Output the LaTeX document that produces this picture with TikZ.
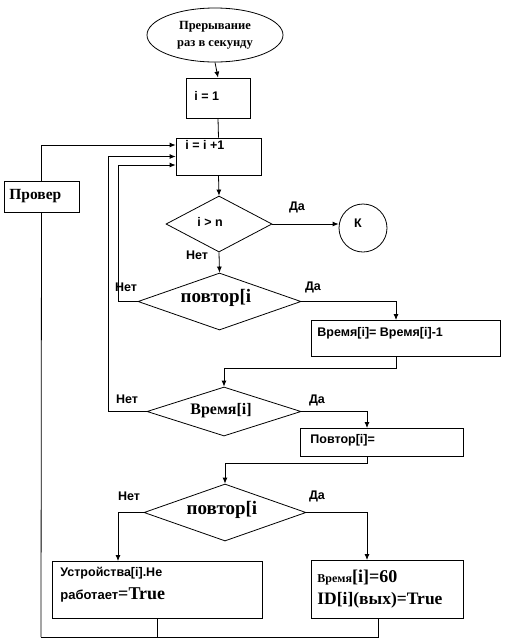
\documentclass[tikz,border=0pt]{standalone}
\usepackage{fontspec}
\setmainfont{Liberation Serif}
\newfontfamily\sansb{Liberation Sans}
\usetikzlibrary{shapes.geometric,arrows.meta}
\begin{document}
\begin{tikzpicture}[x=1pt,y=-1pt,
  line width=0.8pt,
  every node/.style={inner sep=0pt},
  blk/.style={draw, rectangle, inner sep=0pt},
  dia/.style={draw, diamond, inner sep=0pt},
  lab/.style={font=\sansb\bfseries\fontsize{12.5}{14}\selectfont},
  arr/.style={-{Latex[length=6pt,width=5pt]}}
]
\useasboundingbox (0,0) rectangle (505,638);

% shapes
\node[draw, ellipse, minimum width=136pt, minimum height=54pt, align=center,
      font=\bfseries\fontsize{12.5}{17}\selectfont] (start) at (215,35) {Прерывание\\раз в секунду};
\node[blk, minimum width=64pt, minimum height=40pt] (b1) at (218,98) {};
\node[blk, minimum width=85pt, minimum height=37pt] (b2) at (218.5,156.5) {};
\node[blk, minimum width=75pt, minimum height=31pt] (prov) at (41.5,196.5) {};
\node[dia, minimum width=106pt, minimum height=56pt] (d1) at (219,224) {};
\node[draw, circle, minimum size=48pt] (k) at (363,228) {};
\node[dia, minimum width=163pt, minimum height=57pt] (d2) at (219.5,301.5) {};
\node[blk, minimum width=189pt, minimum height=36pt] (b3) at (405.5,338) {};
\node[dia, minimum width=154pt, minimum height=49pt] (d3) at (224,411.5) {};
\node[blk, minimum width=163pt, minimum height=28pt] (b4) at (381.5,442) {};
\node[dia, minimum width=162pt, minimum height=57pt] (d4) at (225,512.5) {};
\node[blk, minimum width=210pt, minimum height=57pt] (b5) at (157,589.5) {};
\node[blk, minimum width=152pt, minimum height=58pt] (b6) at (387,589) {};

% texts
\node[lab, anchor=west] (t1) at (194,96) {i = 1};
\node[lab, anchor=west] (t2) at (185,145) {i = i +1};
\node[font=\bfseries\fontsize{15.5}{17}\selectfont, anchor=west] (tprov) at (9,196) {Провер};
\node[lab] (t3) at (210,222) {i > n};
\node[lab] (da1) at (297,207) {Да};
\node[lab] (net1) at (197,255) {Нет};
\node[lab] (tk) at (358,223) {К};
\node[font=\bfseries\fontsize{19}{21}\selectfont] (t4) at (216,298) {повтор[i};
\node[lab] (net2) at (126,287) {Нет};
\node[lab] (da2) at (313,287) {Да};
\node[lab, anchor=west] (t5) at (317,333) {Время[i]= Время[i]-1};
\node[font=\bfseries\fontsize{16}{18}\selectfont] (t6) at (221,411) {Время[i]};
\node[lab] (net3) at (127,399) {Нет};
\node[lab] (da3) at (317,400) {Да};
\node[lab, anchor=west] (t7) at (310,440) {Повтор[i]=};
\node[font=\bfseries\fontsize{19}{21}\selectfont] (t8) at (222,510) {повтор[i};
\node[lab] (net4) at (129,496) {Нет};
\node[lab] (da4) at (317,496) {Да};
\node[lab, anchor=west] (t9) at (60,573) {Устройства[i].Не};
\node[anchor=west] (t10) at (60,595) {{\sansb\bfseries\fontsize{13}{14}\selectfont работает}{\bfseries\fontsize{18}{20}\selectfont =True}};
\node[anchor=west] (t11) at (317,578) {{\bfseries\fontsize{12}{13}\selectfont Время}{\bfseries\fontsize{18}{20}\selectfont [i]=60}};
\node[anchor=west, font=\bfseries\fontsize{17.5}{19}\selectfont] (t12) at (317,600) {ID[i](вых)=True};

% connectors
\draw[arr] (start.south) -- (b1.north);
\draw (b1.south) -- (b2.north);
\draw[arr] (b2.south) -- (d1.north);
\draw[arr] (d1.east) -- (k.west |- d1.east);
\draw[arr] (d1.south) -- (d2.north);
\draw[arr] (d2.east) -- (396,301.5) -- (396,320);
\draw[arr] (396,356) -- (396,368) -- (224,368) -- (d3.north);
\draw[arr] (d3.east) -- (367,411.5) -- (367,428);
\draw[arr] (367,456) -- (367,463) -- (225,463) -- (d4.north);
\draw[arr] (d4.west) -- (118,512.5) -- (118,561);
\draw[arr] (d4.east) -- (367,512.5) -- (367,560);
\coordinate (bot) at (41,637);
\draw (b5.south) -- (157,637);
\draw (378,618) -- (378,637) -- (bot);
\draw (prov.south) -- (bot);
\draw[arr] (prov.north) |- ([yshift=11.5pt]b2.west);
\draw[arr] (d3.west) -- (108,411.5) |- (b2.west);
\draw[arr] (d2.west) -- (118,301.5) |- ([yshift=-8.5pt]b2.west);
\end{tikzpicture}
\end{document}
